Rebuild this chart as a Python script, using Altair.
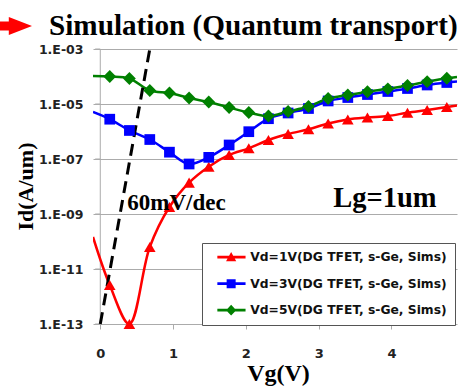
import altair as alt
import pandas as pd

# Gate voltage samples (V); the first and last samples sit on the plot edges
vg = [-0.10, 0.13, 0.40, 0.68, 0.95, 1.22, 1.49, 1.77, 2.04, 2.31,
      2.58, 2.86, 3.13, 3.40, 3.67, 3.95, 4.22, 4.49, 4.76, 4.90]

# Drain current Id (A/um) for each drain bias
id_vd1 = [1.46e-10, 2.62e-12, 1.0e-13, 6.31e-11, 1.80e-9, 1.38e-8, 5.25e-8, 1.40e-7, 2.45e-7, 4.91e-7,
          8.11e-7, 1.20e-6, 1.95e-6, 2.73e-6, 3.23e-6, 3.66e-6, 4.83e-6, 6.05e-6, 7.78e-6, 8.81e-6]
id_vd3 = [5.12e-6, 2.80e-6, 1.09e-6, 5.11e-7, 1.77e-7, 6.58e-8, 1.15e-7, 3.23e-7, 9.84e-7, 2.92e-6,
          4.71e-6, 6.86e-6, 1.29e-5, 1.72e-5, 2.21e-5, 2.85e-5, 3.66e-5, 4.91e-5, 6.05e-5, 6.58e-5]
id_vd5 = [1.04e-4, 1.0e-4, 8.45e-5, 3.10e-5, 2.51e-5, 1.65e-5, 1.18e-5, 7.46e-6, 4.91e-6, 3.66e-6,
          5.33e-6, 8.11e-6, 1.58e-5, 2.12e-5, 2.80e-5, 3.57e-5, 4.71e-5, 6.47e-5, 8.61e-5, 9.6e-5]

series_names = ["Vd=1V(DG TFET, s-Ge, Sims)",
                "Vd=3V(DG TFET, s-Ge, Sims)",
                "Vd=5V(DG TFET, s-Ge, Sims)"]

# 60 mV/dec reference slope
slope_vg = [0.0, 0.68]
slope_id = [1e-13, 1e-3]

decade_ticks = [1e-3, 1e-5, 1e-7, 1e-9, 1e-11, 1e-13]
vg_ticks = [0, 1, 2, 3, 4]

colors = ["#ff0000", "#0000ff", "#008000"]
shapes = ["triangle-up", "square", "diamond"]
marker_sizes = [135, 115, 165]

# legend symbols: a line segment with the marker in the middle
seg = "M0.2,-0.22L4.9,-0.22L4.9,0.22L0.2,0.22Z "
legend_paths = [
    seg + "M1.65,0.7L2.5,-0.85L3.35,0.7Z",
    seg + "M1.75,-0.75L3.25,-0.75L3.25,0.75L1.75,0.75Z",
    seg + "M2.5,-0.9L3.35,0L2.5,0.9L1.65,0Z",
]

rows = []
for name, ys in zip(series_names, [id_vd1, id_vd3, id_vd5]):
    for i, (v, y) in enumerate(zip(vg, ys)):
        rows.append({"series": name, "Vg": v, "Id": y,
                     "marker": 0 < i < len(vg) - 1})
df = pd.DataFrame(rows)

GRID = "#ababab"
SERIF = "Liberation Serif"
SANS = "DejaVu Sans"

x_scale = alt.Scale(domain=[-0.1, 4.9], nice=False, zero=False)
y_scale = alt.Scale(type="log", domain=[1e-13, 1e-3], nice=False)

exp_expr = "abs(round(log(datum.value) / LN10))"
y_axis = alt.Axis(
    values=decade_ticks, grid=True, gridColor=GRID, gridWidth=1,
    domain=False, ticks=False,
    labelExpr=f"'1.E-' + ({exp_expr} < 10 ? '0' : '') + {exp_expr}",
    labelFont=SANS, labelFontWeight="bold", labelFontSize=12.5,
    labelColor="#222222", labelPadding=10,
    title="Id(A/um)", titleFont=SERIF, titleFontWeight="bold", titleFontSize=22,
    titleColor="#000000", titleAngle=270, titleX=-68, titleY=137,
    titleAlign="center", titleBaseline="middle",
)
x_axis = alt.Axis(
    values=vg_ticks, format="d", grid=False, domain=False, ticks=True, tickSize=5,
    tickColor=GRID, labelFont=SANS, labelFontWeight="bold", labelFontSize=13,
    labelColor="#222222", labelPadding=18,
    title="Vg(V)", titleFont=SERIF, titleFontWeight="bold", titleFontSize=24,
    titleColor="#000000", titleX=185, titleY=49,
    titleAlign="center", titleBaseline="middle",
)

base = alt.Chart(df).encode(
    x=alt.X("Vg:Q", scale=x_scale, axis=x_axis),
    y=alt.Y("Id:Q", scale=y_scale, axis=y_axis),
)

# vertical axis line at Vg = 0 and its tick marks
zero_line = alt.Chart(pd.DataFrame({"k": [0]})).mark_rule(color=GRID, strokeWidth=1).encode(
    x=alt.datum(0), y=alt.datum(1e-13), y2=alt.datum(1e-3)
)
y_tick_marks = alt.Chart(pd.DataFrame({"Id": decade_ticks})).mark_rule(color=GRID, strokeWidth=1).encode(
    x=alt.datum(-0.07), x2=alt.datum(0), y=alt.Y("Id:Q")
)

slope = alt.Chart(pd.DataFrame({"Vg": slope_vg, "Id": slope_id})).mark_line(
    color="#000000", strokeWidth=3, strokeDash=[12, 7]
).encode(x="Vg:Q", y="Id:Q")

layers = [base.mark_rule(opacity=0).encode(y=alt.Y("Id:Q")).transform_filter("false"),
          zero_line, y_tick_marks]

curve_layers = []
point_layers = []
for name, col, shp, sz in zip(series_names, colors, shapes, marker_sizes):
    sel = alt.datum.series == name
    curve_layers.append(
        base.mark_line(color=col, strokeWidth=2.5, interpolate="catmull-rom", clip=True)
        .transform_filter(sel)
    )
    point_layers.append(
        base.mark_point(shape=shp, size=sz, filled=True, color=col, opacity=1, strokeWidth=0)
        .transform_filter(sel).transform_filter("datum.marker")
    )

legend_layer = base.mark_point(filled=True, size=144, opacity=1).encode(
    color=alt.Color("series:N", scale=alt.Scale(domain=series_names, range=colors),
                    legend=alt.Legend(
                        title=None, orient="none", legendX=109, legendY=194,
                        padding=8, strokeColor="#555555", fillColor="#ffffff",
                        labelFont=SANS, labelFontWeight="bold", labelFontSize=12.3,
                        labelColor="#111111", labelLimit=0, labelOffset=28,
                        rowPadding=13.5, symbolStrokeWidth=0, symbolSize=144,
                        symbolOpacity=1)),
    shape=alt.Shape("series:N", scale=alt.Scale(domain=series_names, range=legend_paths)),
).transform_filter("false")

annot_slope = alt.Chart(pd.DataFrame({"t": ["60mV/dec"]})).mark_text(
    font=SERIF, fontWeight="bold", fontSize=23, align="left", baseline="alphabetic", color="#000000"
).encode(x=alt.datum(0.37), y=alt.datum(1.4e-9), text="t:N")

annot_lg = alt.Chart(pd.DataFrame({"t": ["Lg=1um"]})).mark_text(
    font=SERIF, fontWeight="bold", fontSize=28.5, align="left", baseline="alphabetic", color="#000000"
).encode(x=alt.datum(3.2), y=alt.datum(1.84e-9), text="t:N")

heading = alt.Chart(pd.DataFrame({"t": ["Simulation (Quantum transport)"]})).mark_text(
    font=SERIF, fontWeight="bold", fontSize=29.2, align="left", baseline="alphabetic", color="#000000"
).encode(x=alt.value(-44), y=alt.value(-14), text="t:N")

arrow = alt.Chart(pd.DataFrame({"k": [0]})).mark_point(
    shape="M-1.2,-0.28L-0.45,-0.28L-0.45,-0.56L1,0L-0.45,0.56L-0.45,0.28L-1.2,0.28Z",
    size=1024, filled=True, color="#ff0000", opacity=1, strokeWidth=0
).encode(x=alt.value(-77), y=alt.value(-23))

chart = alt.layer(
    *layers, *curve_layers, slope, *point_layers, legend_layer,
    annot_slope, annot_lg, heading, arrow
).properties(
    width=364, height=275,
    padding={"left": 93, "top": 49, "right": 1, "bottom": 62},
    autosize=alt.AutoSizeParams(type="none"),
    background="#ffffff",
).configure_view(stroke=None)

chart.save("out.html", embed_options={"renderer": "svg", "actions": False})
